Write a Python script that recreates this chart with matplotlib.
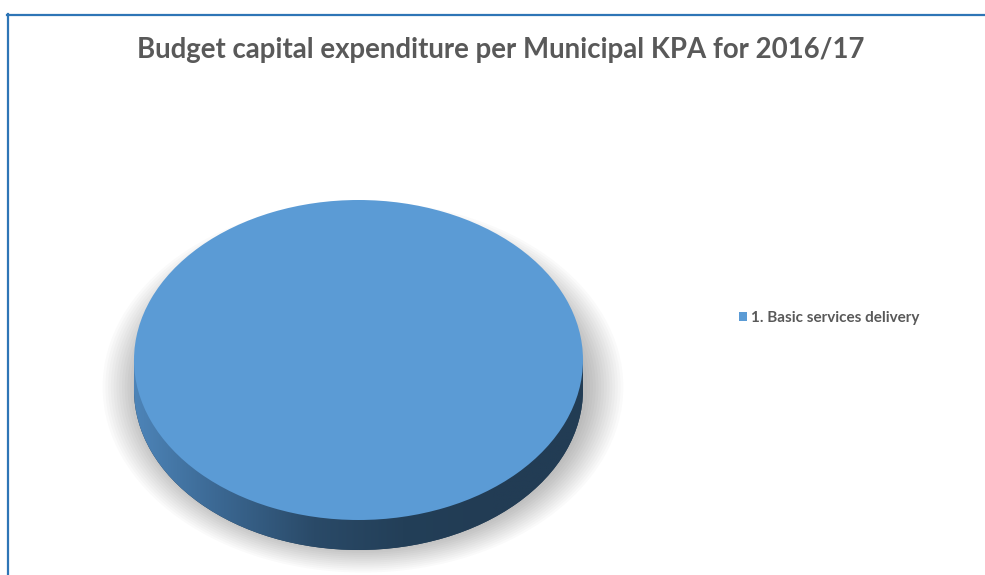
import numpy as np
import matplotlib
matplotlib.use('Agg')
from matplotlib import pyplot as plt
from matplotlib.colors import LinearSegmentedColormap
from matplotlib.lines import Line2D
from matplotlib.patches import Rectangle

# data
categories = ['1. Basic services delivery']
values = [100]
slice_colors = ['#5b9bd5']
title = 'Budget capital expenditure per Municipal KPA for 2016/17'

W, H = 985, 575
fig = plt.figure(figsize=(W / 100, H / 100), dpi=100)
ax = fig.add_axes([0, 0, 1, 1])

# pixel geometry of the 3D pie
cx, cy = 358.5, 360       # centre of top face (px from top-left)
rx, ry = 224.5, 160       # semi axes of top face
depth = 30 / ry           # thickness in data units

# soft shadow
for r in np.linspace(1.0, 1.16, 14):
    ax.pie(values, radius=r, center=(0.02, -depth * 0.9), colors=['black'],
           wedgeprops=dict(alpha=0.02, linewidth=0), startangle=90)

# side of the disc (bottom ellipse + band), filled with a gradient
bottom, _ = ax.pie(values, radius=1, center=(0, -depth), colors=['#223d55'],
                   wedgeprops=dict(linewidth=0), startangle=90)
band = Rectangle((-1, -depth), 2, depth, transform=ax.transData,
                 facecolor='none', edgecolor='none')
ax.add_patch(band)
side_cmap = LinearSegmentedColormap.from_list(
    'side', ['#4d84b8', '#3a6690', '#2a4a68', '#233f58', '#223c54', '#223c54'])
grad = np.linspace(0, 1, 256).reshape(1, -1)
for clip in [bottom[0], band]:
    im = ax.imshow(grad, extent=[-1, 1, -depth - 1, 0.2], cmap=side_cmap,
                   aspect='auto', interpolation='bilinear', zorder=2)
    im.set_clip_path(clip)

# top face
wedges, _ = ax.pie(values, radius=1, center=(0, 0), colors=slice_colors,
                   wedgeprops=dict(linewidth=0), startangle=90)
for w in wedges:
    w.set_zorder(3)

ax.set_aspect('auto')
ax.set_xlim(-cx / rx, (W - cx) / rx)
ax.set_ylim(-(H - cy) / ry, cy / ry)
ax.axis('off')

fig.text(501 / W, 1 - 50 / H, title, ha='center', va='center',
         fontsize=19.9, fontweight='bold', color='#595959', family='Lato')

leg = fig.legend(wedges, categories, loc='center left',
                 bbox_to_anchor=(739 / W, 1 - 318 / H), frameon=False,
                 handlelength=0.5, handleheight=0.5, handletextpad=0.3,
                 borderpad=0, borderaxespad=0,
                 prop=dict(family='Lato', weight='bold', size=11))
for t in leg.get_texts():
    t.set_color('#595959')

# frame lines (top and left)
fig.add_artist(Line2D([7 / W, 1], [1 - 14.5 / H, 1 - 14.5 / H],
                      color='#2e75b6', linewidth=1.6, transform=fig.transFigure))
fig.add_artist(Line2D([7.5 / W, 7.5 / W], [0, 1 - 14 / H],
                      color='#2e75b6', linewidth=1.6, transform=fig.transFigure))

fig.savefig('out.png', dpi=100)
